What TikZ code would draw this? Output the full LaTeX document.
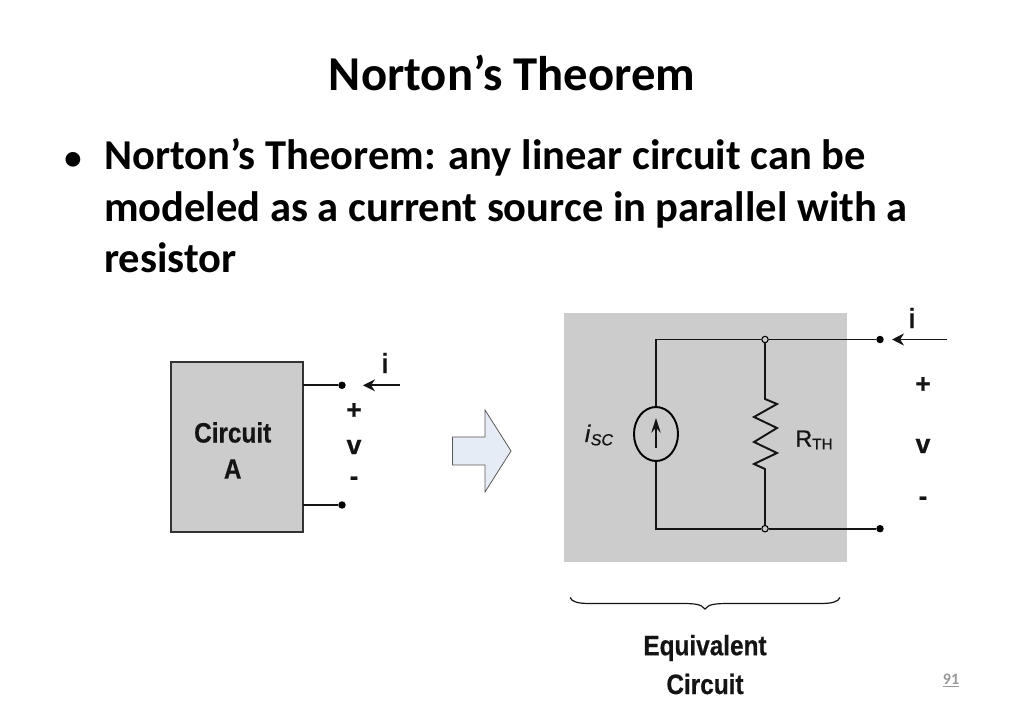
\documentclass[tikz,border=0pt]{standalone}
\usepackage{fontspec}
\setmainfont{Carlito}
\newfontfamily\arialf[FakeStretch=0.87,FakeBold=0.5]{Liberation Sans}
\newfontfamily\arialsym[FakeBold=0.5]{Liberation Sans}
\newfontfamily\arialreg[FakeBold=1]{Liberation Sans}
\usetikzlibrary{arrows.meta,shapes.geometric}
\definecolor{boxgrey}{HTML}{CCCCCC}
\definecolor{blockfill}{HTML}{E6ECF6}
\definecolor{wire}{HTML}{141414}
\tikzset{
 px/.style={x=0.75pt,y=-0.75pt},
 wireline/.style={draw=wire,line width=1.45pt},
 termdot/.style={circle,fill=black,inner sep=0pt,minimum size=5.6pt},
 joint/.style={circle,draw=black,line width=0.8pt,inner sep=0pt,minimum size=4.8pt},
 lab/.style={font=\arialf\bfseries\fontsize{21}{24}\selectfont,text=black!92,inner sep=0pt},
 sym/.style={font=\arialsym\bfseries\fontsize{20}{24}\selectfont,text=black!92,inner sep=0pt},
 curarrow/.style={draw=wire,line width=1.3pt,-{Stealth[length=9pt,width=9pt]}},
 head/.style={font=\bfseries\fontsize{36.5}{40}\selectfont,inner sep=0pt},
 body/.style={font=\bfseries\fontsize{31.9}{39}\selectfont,inner sep=0pt},
}
\begin{document}
\begin{tikzpicture}[px]
\useasboundingbox (0,0) rectangle (1024,712);
\node[head] (title) at (512,72.5) {Norton’s Theorem};
\node[body,anchor=base west,font=\bfseries\fontsize{26}{30}\selectfont] (bullet) at (64,170) {•};
\node[body,anchor=base west] (t1) at (104,170) {Norton’s Theorem: any linear circuit can be};
\node[body,anchor=base west] (t2) at (104,221.5) {modeled as a current source in parallel with a};
\node[body,anchor=base west] (t3) at (104,273) {resistor};
% left circuit
\node[draw=black!80,line width=1.4pt,fill=boxgrey,minimum width=99pt,minimum height=127.5pt,inner sep=0pt] (cA) at (237,447.3) {};
\node[lab] (cAt) at (232.7,432.5) {Circuit};
\node[lab] (cAs) at (232.7,469) {A};
\coordinate (cAu) at (303,385.3);
\coordinate (cAl) at (303,505);
\node[termdot] (a1) at (342,385.3) {};
\node[termdot] (a2) at (342,505) {};
\draw[wireline] (cAu) -- (a1);
\draw[wireline] (cAl) -- (a2);
\coordinate (ia0) at (400,385.3);
\coordinate (ia1) at (363,385.3);
\draw[curarrow] (ia0) -- (ia1);
\node[lab] (il) at (385,363) {i};
\node[sym] (pl) at (354,411) {+};
\node[sym] (vl) at (354,447) {v};
\node[sym] (ml) at (354,481) {-};
% block arrow
\draw[draw=black!65,line width=0.6pt,fill=blockfill] (452.5,437) -- (485,437) -- (485,410) -- (511,451) -- (485,492) -- (485,465) -- (452.5,465) -- cycle;
% right circuit
\node[fill=boxgrey,minimum width=212.6pt,minimum height=186.8pt,inner sep=0pt] (cB) at (705.3,437.5) {};
\node[joint] (j1) at (765,339.5) {};
\node[joint] (j2) at (765,528.7) {};
\node[termdot] (b1) at (880,339.5) {};
\node[termdot] (b2) at (880,528.7) {};
\node[draw=black,line width=1.45pt,ellipse,minimum width=33pt,minimum height=40.5pt,inner sep=0pt] (src) at (656,434) {};
\coordinate (cTL) at (656,339.5);
\coordinate (cBL) at (656,528.7);
\coordinate (rt) at (765,399);
\coordinate (rb) at (765,469);
\draw[wireline] (src.north) -- (cTL) -- (j1) -- (b1);
\draw[wireline] (src.south) -- (cBL) -- (j2) -- (b2);
\draw[wireline] (j1) -- (rt) -- (777,404) -- (754,417) -- (777,428) -- (754,442) -- (777,453) -- (754,464) -- (rb) -- (j2);
\coordinate (sa0) at (656,448);
\coordinate (sa1) at (656,418);
\draw[draw=wire,line width=1.1pt,-{Stealth[length=11pt,width=7pt]}] (sa0) -- (sa1);
\coordinate (ib0) at (947,339.5);
\coordinate (ib1) at (892,339.5);
\draw[curarrow] (ib0) -- (ib1);
\node[lab] (il2) at (912,318) {i};
\node[sym] (pl2) at (923,385) {+};
\node[sym] (vl2) at (923,446) {v};
\node[sym] (ml2) at (923,501) {-};
\node[inner sep=0pt,font=\arialreg\fontsize{18}{20}\selectfont,text=black!92] (isc) at (599,435) {\textit{i}\raisebox{-2.5pt}{\fontsize{12}{15}\selectfont\textit{SC}}};
\node[inner sep=0pt,font=\arialreg\fontsize{17.5}{20}\selectfont,text=black!92] (rth) at (814,440) {R\raisebox{-2pt}{\fontsize{11.5}{15}\selectfont TH}};
% brace
\coordinate (brL) at (570,597.5);
\coordinate (brR) at (840,597.5);
\coordinate (brT) at (705,609);
\draw[draw=wire,line width=0.9pt] (brL) .. controls (572,602) and (578,603.5) .. (590,603.5) -- (680,603.5) .. controls (695,603.5) and (701,604) .. (brT) .. controls (709,604) and (715,603.5) .. (730,603.5) -- (820,603.5) .. controls (832,603.5) and (838,602) .. (brR);
\node[lab] (eq) at (705,648) {Equivalent};
\node[lab] (ci) at (705,684) {Circuit};
\node[inner sep=0pt,font=\bfseries\fontsize{12}{14}\selectfont,text=black!40] (pg) at (951,680.5) {\underline{91}};
\end{tikzpicture}
\end{document}
